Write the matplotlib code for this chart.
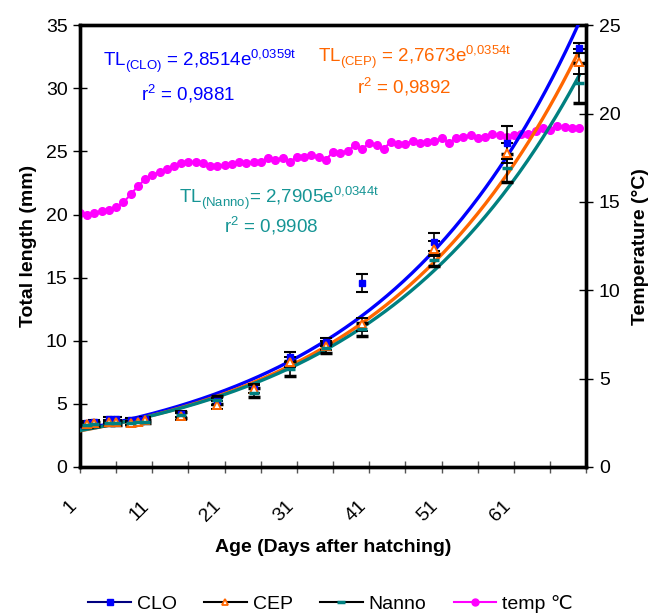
import numpy as np
import matplotlib
matplotlib.use("Agg")
import matplotlib.pyplot as plt
from matplotlib.lines import Line2D

plt.rcParams['font.family'] = ['Liberation Sans', 'DejaVu Sans']
plt.rcParams['mathtext.fontset'] = 'custom'
plt.rcParams['mathtext.rm'] = 'Liberation Sans'

# ---- data ----
days = [2, 3, 5, 6, 8, 9, 10, 15, 20, 25, 30, 35, 40, 50, 60, 70]
clo = [3.5, 3.6, 3.8, 3.8, 3.7, 3.7, 3.8, 4.2, 5.2, 6.2, 8.7, 9.9, 14.6, 17.8, 25.7, 33.2]
cep = [3.4, 3.5, 3.6, 3.6, 3.5, 3.6, 3.7, 4.0, 4.9, 6.2, 8.3, 9.6, 11.3, 17.3, 24.9, 32.1]
nanno = [3.3, 3.4, 3.5, 3.5, 3.5, 3.6, 3.6, 4.1, 5.3, 5.9, 7.8, 9.4, 10.9, 16.4, 23.7, 30.4]
clo_err = [0.15, 0.15, 0.15, 0.15, 0.15, 0.15, 0.15, 0.25, 0.3, 0.3, 0.4, 0.3, 0.7, 0.7, 1.3, 0.4]
cep_err = [0.15, 0.15, 0.15, 0.15, 0.15, 0.15, 0.15, 0.25, 0.3, 0.35, 0.4, 0.35, 0.5, 0.6, 0.8, 1.0]
nanno_err = [0.15, 0.15, 0.15, 0.15, 0.15, 0.15, 0.15, 0.25, 0.3, 0.35, 0.6, 0.4, 0.5, 0.5, 1.1, 1.6]

temp_days = list(range(1, 71))
temp = [14.38, 14.24, 14.38, 14.48, 14.54, 14.69, 14.97, 15.42, 15.89, 16.27,
        16.52, 16.70, 16.89, 17.02, 17.21, 17.27, 17.27, 17.18, 17.04, 17.04,
        17.08, 17.12, 17.27, 17.18, 17.27, 17.27, 17.46, 17.37, 17.46, 17.27,
        17.55, 17.55, 17.65, 17.55, 17.40, 17.83, 17.78, 17.89, 18.21, 18.02,
        18.31, 18.21, 18.02, 18.40, 18.27, 18.27, 18.46, 18.36, 18.40, 18.46,
        18.59, 18.36, 18.59, 18.68, 18.78, 18.59, 18.68, 18.83, 18.78, 18.68,
        18.78, 18.85, 18.87, 19.00, 19.16, 19.06, 19.29, 19.25, 19.16, 19.20]

fits = {
    'CLO': (2.8514, 0.0359),
    'CEP': (2.7673, 0.0354),
    'Nanno': (2.7905, 0.0344),
}

xtick_labels = ['1', '11', '21', '31', '41', '51', '61']

BLUE = '#0000FF'
ORANGE = '#FF6600'
TEAL = '#008080'
TEALTXT = '#169595'
MAGENTA = '#FF00FF'

fig = plt.figure(figsize=(6.61, 6.15), dpi=100)
ax = fig.add_axes([0.121, 0.2407, 0.766, 0.7183])
ax2 = ax.twinx()

# temperature
ax2.plot(temp_days, temp, color=MAGENTA, lw=1.5, marker='o', ms=5.5, zorder=2)
ax2.set_ylim(0, 25)
ax2.set_yticks(range(0, 26, 5))

# fitted curves
t = np.linspace(1, 70, 300)
for name, col in [('CLO', BLUE), ('CEP', ORANGE), ('Nanno', TEAL)]:
    a, b = fits[name]
    ax2.plot(t, a * np.exp(b * t) * 25 / 35, color=col, lw=2.4, zorder=3)

s = 25 / 35
ax2.errorbar(days, np.array(clo) * s, yerr=np.array(clo_err) * s, fmt='s', color=BLUE,
             ms=5, ecolor='black', elinewidth=1.2, capsize=4, capthick=1.5, zorder=4)
ax2.errorbar(days, np.array(cep) * s, yerr=np.array(cep_err) * s, fmt='^', color=ORANGE,
             mfc='white', mec=ORANGE, mew=1.4, ms=5.5, ecolor='black', elinewidth=1.2,
             capsize=4, capthick=1.5, zorder=4)
ax2.errorbar(days, np.array(nanno) * s, yerr=np.array(nanno_err) * s, fmt='_', color=TEAL,
             ms=7, mew=2.5, ecolor='black', elinewidth=1.2, capsize=4, capthick=1.5, zorder=4)

ax.set_xlim(1, 71)
ax.set_ylim(0, 35)
ax.set_yticks(range(0, 36, 5))
ax.set_xticks(range(1, 72, 5))
ax.set_xticklabels([str(d) if str(d) in xtick_labels else '' for d in range(1, 72, 5)],
                   rotation=45, ha='right', va='top')

for a_ in (ax, ax2):
    for sp in a_.spines.values():
        sp.set_linewidth(2.4)
        sp.set_color('black')
ax.tick_params(axis='y', direction='inout', length=10, width=1, labelsize=14, pad=4)
ax2.tick_params(axis='y', direction='inout', length=10, width=1, labelsize=14, pad=4)
ax.tick_params(axis='x', direction='inout', length=8, width=1, color='#555555',
               labelsize=14, pad=18)

ax.set_ylabel('Total length (mm)', fontsize=14, fontweight='bold', labelpad=6)
ax2.set_ylabel('Temperature (°C)', fontsize=14, fontweight='bold', labelpad=8)
ax.set_xlabel('Age (Days after hatching)', fontsize=14, fontweight='bold', labelpad=10)

# equations
ax.text(0.045, 0.905, r'TL$_{\mathregular{(CLO)}}$ = 2,8514e$^{\mathregular{0{,}0359t}}$',
        transform=ax.transAxes, color=BLUE, fontsize=13.5)
ax.text(0.12, 0.83, r'r$^{\mathregular{2}}$ = 0,9881', transform=ax.transAxes, color=BLUE, fontsize=13.5)
ax.text(0.47, 0.915, r'TL$_{\mathregular{(CEP)}}$ = 2,7673e$^{\mathregular{0{,}0354t}}$',
        transform=ax.transAxes, color=ORANGE, fontsize=13.5)
ax.text(0.547, 0.845, r'r$^{\mathregular{2}}$ = 0,9892', transform=ax.transAxes, color=ORANGE, fontsize=13.5)
ax.text(0.195, 0.595, r'TL$_{\mathregular{(Nanno)}}$= 2,7905e$^{\mathregular{0{,}0344t}}$',
        transform=ax.transAxes, color=TEALTXT, fontsize=13.5)
ax.text(0.285, 0.53, r'r$^{\mathregular{2}}$ = 0,9908', transform=ax.transAxes, color=TEALTXT, fontsize=13.5)

handles = [
    Line2D([], [], color='#000080', lw=1.5, marker='s', mfc=BLUE, mec=BLUE, ms=5),
    Line2D([], [], color='black', lw=1.5, marker='^', mfc='white', mec=ORANGE, mew=1.3, ms=5),
    Line2D([], [], color='black', lw=1.5, marker='_', mec=TEAL, mew=2.5, ms=6),
    Line2D([], [], color=MAGENTA, lw=1.5, marker='o', mfc=MAGENTA, ms=5),
]
fig.legend(handles, ['CLO', 'CEP', 'Nanno', 'temp ℃'], loc='center',
           bbox_to_anchor=(0.5, 0.018), ncol=4, frameon=False, fontsize=14,
           handlelength=2.2, columnspacing=1.4, handletextpad=0.3)

fig.savefig('out.png', dpi=100)
